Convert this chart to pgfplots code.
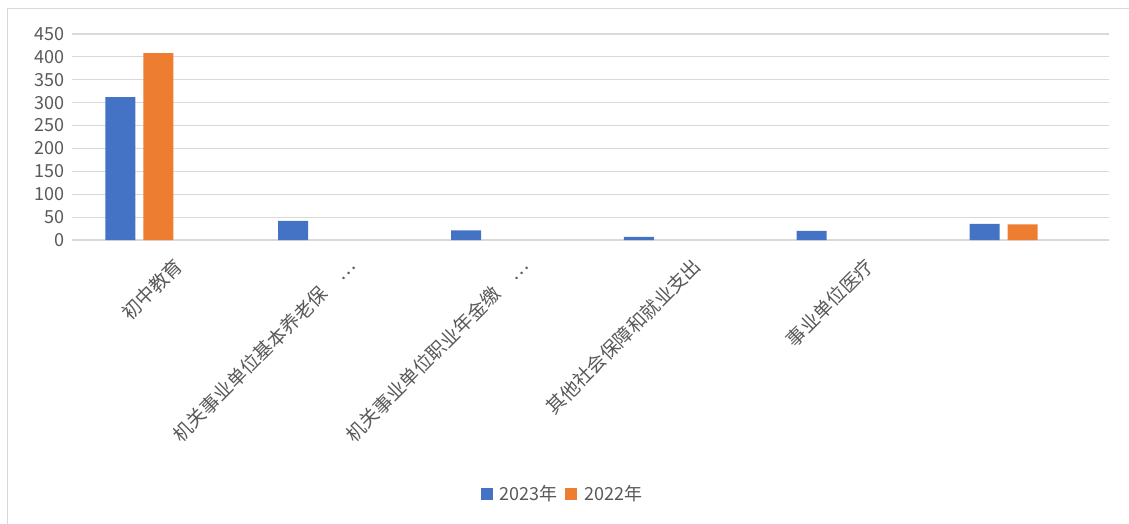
\documentclass[border=0pt]{standalone}
\usepackage{pgfplots}
\pgfplotsset{compat=1.18}
\usepackage{fontspec}
\setmainfont{Noto Sans CJK SC}

\definecolor{blu}{HTML}{4472C4}
\definecolor{org}{HTML}{ED7D31}
\definecolor{txt}{HTML}{595959}
\definecolor{grd}{HTML}{D9D9D9}

\begin{document}
\begin{tikzpicture}
\path[use as bounding box] (-72pt,-284pt) rectangle (1057pt,240pt);
\draw[grd, line width=1pt] (-64pt,-284pt) -- (-64pt,231pt) -- (1057pt,231pt);
\begin{axis}[
    at={(0pt,0pt)}, anchor=south west,
    scale only axis,
    width=1037pt, height=206pt,
    xmin=-0.5, xmax=5.5,
    ymin=0, ymax=450,
    ytick={0,50,...,450},
    xtick={0,1,2,3,4,5},
    xticklabels={初中教育, 机关事业单位基本养老保\quad…, 机关事业单位职业年金缴\quad…, 其他社会保障和就业支出, 事业单位医疗, {}},
    axis line style={draw=none},
    major tick length=0pt,
    ymajorgrids,
    major grid style={grd, line width=1.2pt},
    ybar, bar width=0.1736,
    /pgf/number format/assume math mode=true,
    yticklabel style={font=\fontsize{18}{18}\selectfont, text=txt, anchor=east, xshift=-4pt},
    xticklabel style={font=\fontsize{19}{19}\selectfont, text=txt, rotate=45, anchor=north east, xshift=2pt, yshift=-18pt},
    legend style={draw=none, at={(0.473,-1.233)}, anchor=center, legend columns=-1,
        font=\fontsize{18}{18}\selectfont, text=txt,
        /tikz/every odd column/.append style={column sep=5pt},
        /tikz/every even column/.append style={column sep=6pt}},
    legend image code/.code={\fill[#1] (0pt,-6pt) rectangle (12pt,6pt);},
]
\addplot[fill=blu, draw=none, bar shift=-0.22] coordinates {(0,312) (1,42) (2,21) (3,7) (4,20) (5,35)};
\addlegendentry{2023年}
\addplot[fill=org, draw=none, bar shift=0] coordinates {(0,408) (5,34)};
\addlegendentry{2022年}
\end{axis}
\end{tikzpicture}
\end{document}
